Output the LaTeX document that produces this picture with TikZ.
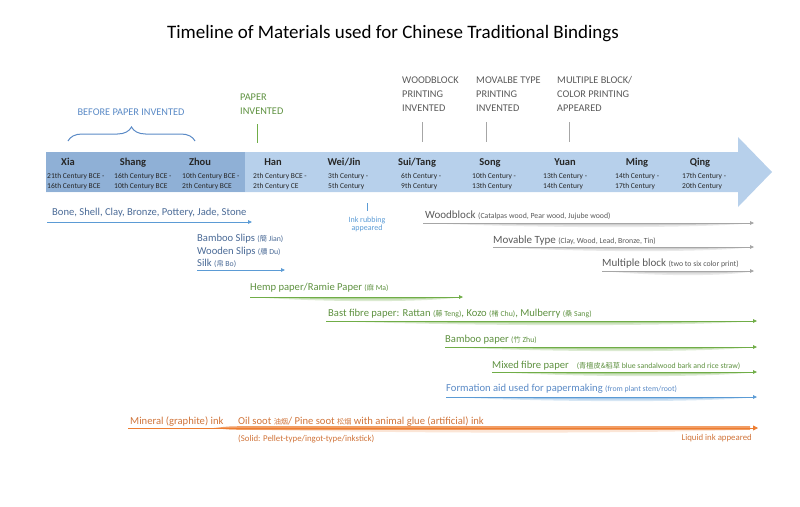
\documentclass[tikz,border=0pt]{standalone}
\usepackage{fontspec}
\setmainfont{Carlito}
\newfontfamily\cjk{Noto Sans CJK TC}
\usetikzlibrary{arrows.meta,positioning,calc,decorations.pathreplacing}
\definecolor{bandlight}{HTML}{B7D0EB}
\definecolor{banddark}{HTML}{8FB0D6}
\definecolor{tdark}{HTML}{262626}
\definecolor{tgray}{HTML}{595959}
\definecolor{agray}{HTML}{A6A6A6}
\definecolor{tblue}{HTML}{4A6A96}
\definecolor{eblue}{HTML}{5A8AC6}
\definecolor{ablue}{HTML}{5B9BD5}
\definecolor{tgreen}{HTML}{5E9140}
\definecolor{agreen}{HTML}{70AD47}
\definecolor{torange}{HTML}{D0743A}
\definecolor{aorange}{HTML}{ED7D31}
\newcommand{\sm}[1]{{\fontsize{7.8}{9}\selectfont #1}}
\newcommand{\zh}[1]{{\cjk\fontsize{7.2}{9}\selectfont #1}}
\newcommand{\swoosh}[3]{%
  \fill[#1,opacity=.25] (#2) .. controls ($(#2)!.4!(#3)+(0,6)$) and ($(#2)!.85!(#3)+(0,5)$) .. (#3) -- cycle;
  \fill[#1,opacity=.4] (#2) .. controls ($(#2)!.45!(#3)+(0,3.5)$) and ($(#2)!.8!(#3)+(0,3)$) .. (#3) -- cycle;}
\begin{document}
\begin{tikzpicture}[x=1pt, y=-1pt,
    period/.style={font=\fontsize{10.5}{12}\selectfont\bfseries, text=tdark, anchor=base, inner sep=0},
    datelbl/.style={font=\fontsize{7.5}{10}\selectfont, text=tdark, align=left, anchor=base west, inner sep=0},
    evtlbl/.style={font=\fontsize{10.3}{13.8}\selectfont, align=left, anchor=base west, inner sep=0},
    matlbl/.style={font=\fontsize{10.6}{12.5}\selectfont, align=left, anchor=base west, inner sep=0},
    bar/.style={-{Triangle[length=4pt,width=3.6pt]}, line width=0.8pt},
    tick/.style={line width=1pt}
]
    \useasboundingbox (0,0) rectangle (800,506);
    \node[font=\fontsize{19}{22}\selectfont, anchor=base] (title) at (393,38)
        {Timeline of Materials used for Chinese Traditional Bindings};

    % Time band
    \fill[bandlight] (46,152) -- (738,152) -- (738,137) -- (772,172) -- (738,207)
        -- (738,192) -- (46,192) -- cycle;
    \fill[banddark] (46,152) rectangle (245,192);

    \foreach \nm/\cx/\dx/\da/\db [count=\i] in {
        Xia/68/47/21th Century BCE -/16th Century BCE,
        Shang/133/114/16th Century BCE -/10th Century BCE,
        Zhou/200/182/10th Century BCE -/2th Century BCE,
        Han/273/253/2th Century BCE -/2th Century CE,
        {Wei/Jin}/344/328/3th Century -/5th Century,
        {Sui/Tang}/417/401/6th Century -/9th Century,
        Song/490/472/10th Century -/13th Century,
        Yuan/565/543/13th Century -/14th Century,
        Ming/637/615/14th Century -/17th Century,
        Qing/700/682/17th Century -/20th Century} {
        \node[period] (per\i) at (\cx,165) {\nm};
        \node[datelbl] (date\i) at (\dx,188) {\da\\\db};
    }

    % Events above the band
    \node[evtlbl, text=eblue, anchor=base] (before) at (131,115.5) {BEFORE PAPER INVENTED};
    \draw[eblue, line width=1pt, decorate, decoration={brace, amplitude=14pt, aspect=0.5}]
        (68,141) -- (195,141);
    \node[evtlbl, text=tgreen] (paper) at (240,114.5) {PAPER\\INVENTED};
    \node[evtlbl, text=tgray] (wood) at (402,111.5) {WOODBLOCK\\PRINTING\\INVENTED};
    \node[evtlbl, text=tgray] (movable) at (476,111.5) {MOVALBE TYPE\\PRINTING\\INVENTED};
    \node[evtlbl, text=tgray] (multi) at (557,111.5) {MULTIPLE BLOCK/\\COLOR PRINTING\\APPEARED};
    \coordinate (papertick) at (257,124);
    \coordinate (woodtick) at (422,122);
    \coordinate (movtick) at (486,122);
    \coordinate (multitick) at (569,122);
    \draw[tick, agreen] (papertick) -- ++(0,19);
    \foreach \t in {woodtick,movtick,multitick}
        \draw[tick, agray] (\t) -- ++(0,20);

    % Writing materials
    \node[matlbl, text=tblue] (bone) at (52,215.5) {Bone, Shell, Clay, Bronze, Pottery, Jade, Stone};
    \coordinate (bone-a) at (47,222);
    \coordinate (bone-b) at (252,222);
    \draw[bar, ablue] (bone-a) -- (bone-b);

    \node[matlbl, text=tblue] (slips) at (197,266.5)
        {Bamboo Slips \sm{(}\zh{簡}\sm{ Jian)}\\Wooden Slips \sm{(}\zh{牘}\sm{ Du)}\\Silk \sm{(}\zh{帛}\sm{ Bo)}};
    \coordinate (silk-a) at (197,270);
    \coordinate (silk-b) at (285,270);
    \draw[bar, ablue] (silk-a) -- (silk-b);

    \coordinate (inktick) at (367,203);
    \draw[ablue, line width=0.8pt] (inktick) -- ++(0,8);
    \node[font=\fontsize{8}{8}\selectfont, text=ablue, align=center, anchor=north, inner sep=0]
        (rubbing) at (367,217) {Ink rubbing\\appeared};

    % Printing
    \node[matlbl, text=tgray] (woodblock) at (425,218.5)
        {\fontsize{11}{12}\selectfont Woodblock \sm{(Catalpas wood, Pear wood, Jujube wood)}};
    \coordinate (wb-a) at (423,223);
    \coordinate (wb-b) at (754,223);
    \swoosh{agray}{wb-a}{wb-b}
    \draw[bar, agray] (wb-a) -- (wb-b);

    \node[matlbl, text=tgray] (movtype) at (493,243.5)
        {\fontsize{11}{12}\selectfont Movable Type \sm{(Clay, Wood, Lead, Bronze, Tin)}};
    \coordinate (mt-a) at (493,247);
    \coordinate (mt-b) at (754,247);
    \swoosh{agray}{mt-a}{mt-b}
    \draw[bar, agray] (mt-a) -- (mt-b);

    \node[matlbl, text=tgray] (multiblock) at (602,266)
        {\fontsize{11}{12}\selectfont Multiple block \sm{(two to six color print)}};
    \coordinate (mb-a) at (602,271);
    \coordinate (mb-b) at (754,271);
    \swoosh{agray}{mb-a}{mb-b}
    \draw[bar, agray] (mb-a) -- (mb-b);

    % Paper
    \node[matlbl, text=tgreen] (hemp) at (250,290.5) {Hemp paper/Ramie Paper \sm{(}\zh{麻}\sm{ Ma)}};
    \coordinate (hemp-a) at (250,297);
    \coordinate (hemp-b) at (463,297);
    \swoosh{agreen}{hemp-a}{hemp-b}
    \draw[bar, agreen] (hemp-a) -- (hemp-b);

    \node[matlbl, text=tgreen] (bast) at (328,316.5)
        {Bast fibre paper: Rattan \sm{(}\zh{藤}\sm{ Teng)}, Kozo \sm{(}\zh{楮}\sm{ Chu)}, Mulberry \sm{(}\zh{桑}\sm{ Sang)}};
    \coordinate (bast-a) at (326,321);
    \coordinate (bast-b) at (757,321);
    \swoosh{agreen}{bast-a}{bast-b}
    \draw[bar, agreen] (bast-a) -- (bast-b);

    \node[matlbl, text=tgreen] (bamboo) at (445,342) {Bamboo paper \sm{(}\zh{竹}\sm{ Zhu)}};
    \coordinate (bam-a) at (445,347);
    \coordinate (bam-b) at (757,347);
    \swoosh{agreen}{bam-a}{bam-b}
    \draw[bar, agreen] (bam-a) -- (bam-b);

    \node[matlbl, text=tgreen] (mixed) at (492,368)
        {Mixed fibre paper\hspace{8pt}\sm{(}\zh{青檀皮\&稻草}\sm{ blue sandalwood bark and rice straw)}};
    \coordinate (mix-a) at (492,372);
    \coordinate (mix-b) at (757,372);
    \swoosh{agreen}{mix-a}{mix-b}
    \draw[bar, agreen] (mix-a) -- (mix-b);

    \node[matlbl, text=eblue] (formation) at (446,391.5)
        {Formation aid used for papermaking \sm{(from plant stem/root)}};
    \coordinate (form-a) at (446,397);
    \coordinate (form-b) at (757,397);
    \swoosh{ablue}{form-a}{form-b}
    \draw[bar, ablue] (form-a) -- (form-b);

    % Ink
    \node[matlbl, text=torange] (mineral) at (130,424) {Mineral (graphite) ink};
    \node[matlbl, text=torange] (oilsoot) at (238,424)
        {Oil soot \zh{油烟}/ Pine soot \zh{松烟} with animal glue (artificial) ink};
    \node[font=\fontsize{8.8}{10}\selectfont, text=torange, anchor=base west, inner sep=0]
        (solid) at (238,441) {(Solid: Pellet-type/ingot-type/inkstick)};
    \node[font=\fontsize{8.8}{10}\selectfont, text=torange, anchor=base east, inner sep=0]
        (liquid) at (752,440) {Liquid ink appeared};
    \coordinate (ink-a) at (128,428);
    \coordinate (ink-b) at (758,428);
    \coordinate (ink-c) at (214,428);
    \fill[aorange, opacity=.75] (ink-c) .. controls (230,426.2) .. (250,426.2) -- (750,426.2)
        -- (750,429.8) -- (250,429.8) .. controls (230,429.8) .. (ink-c) -- cycle;
    \fill[aorange, opacity=.2] (250,429.8) .. controls (450,434) and (650,433) .. (750,429.8) -- cycle;
    \draw[bar, aorange, -{Triangle[length=5pt,width=5pt]}] (ink-a) -- (ink-b);
\end{tikzpicture}
\end{document}
